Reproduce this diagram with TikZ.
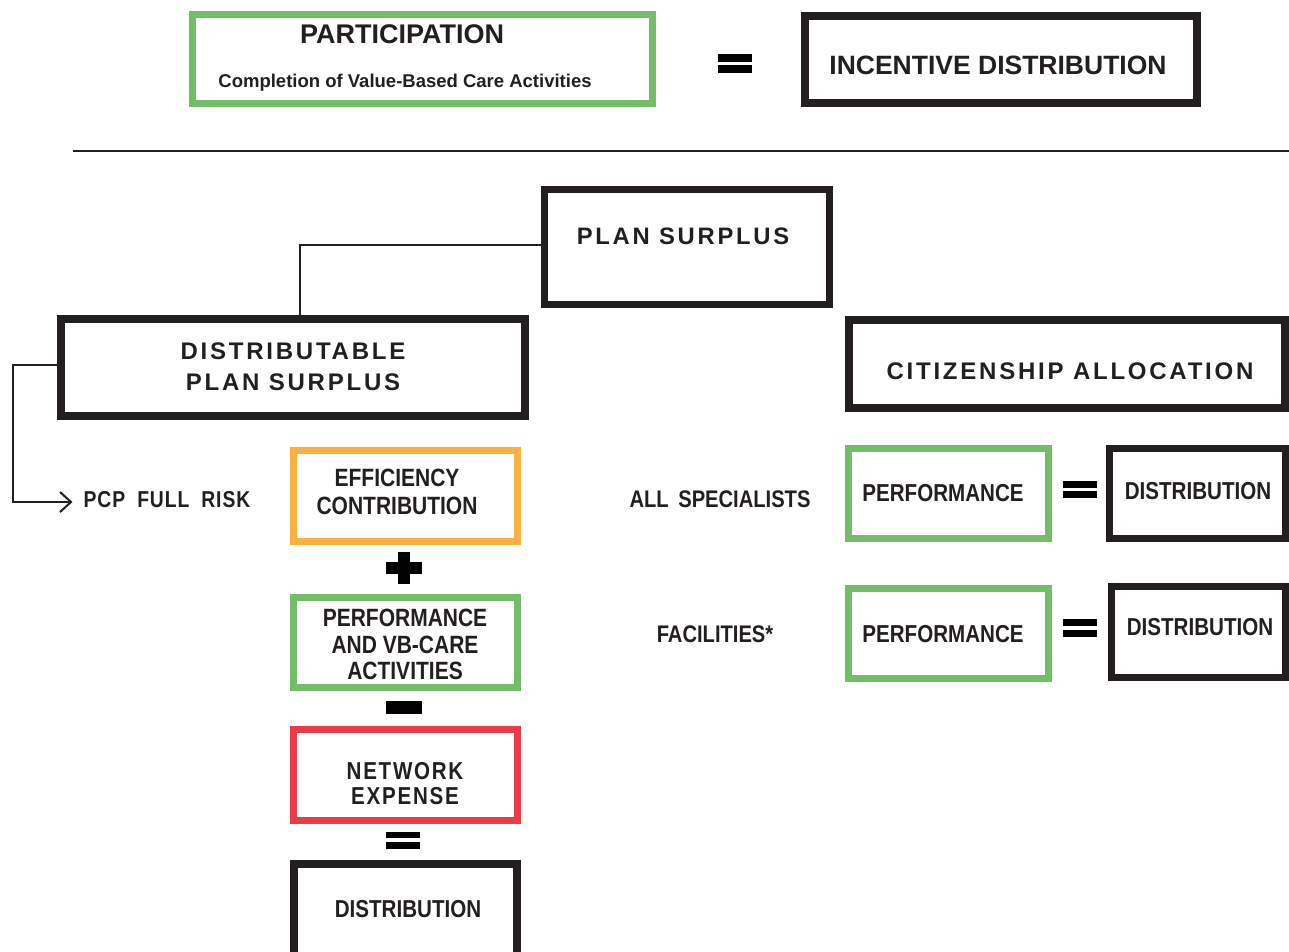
\documentclass[tikz,border=0pt]{standalone}
\usepackage{fontspec}
\setmainfont{Liberation Sans}
\newfontfamily\cnd[FakeStretch=0.84]{Liberation Sans}
\newfontfamily\trk[LetterSpace=11.5]{Liberation Sans}
\newfontfamily\cndtrk[FakeStretch=0.84,LetterSpace=7]{Liberation Sans}
\newfontfamily\cndlight[FakeStretch=0.84,LetterSpace=4]{Liberation Sans}
\usetikzlibrary{arrows.meta}
\definecolor{ink}{HTML}{231F20}
\definecolor{leaf}{HTML}{72BF67}
\definecolor{amber}{HTML}{FBB040}
\definecolor{alert}{HTML}{EC3B46}

\begin{document}
\begin{tikzpicture}[x=1pt,y=-1pt,
  frame/.style={draw=#1, line width=7pt, inner sep=0pt, outer sep=0pt, minimum width=224pt, minimum height=91pt},
  heavy/.style={frame=ink, line width=8pt},
  txt/.style={text=ink, inner sep=0pt, align=center},
  boxtext/.style={txt, font=\cnd\bfseries\fontsize{24.5}{27}\selectfont},
  toptext/.style={txt, font=\bfseries\fontsize{26.5}{30}\selectfont},
  tracked/.style={txt, font=\trk\bfseries\fontsize{24}{31}\selectfont},
  thin/.style={draw=ink, line width=2pt},
  bar/.style={fill=black}
]
\useasboundingbox (0,0) rectangle (1289,951);
\clip (0,0) rectangle (1289,951);

% ---- top row: participation = incentive distribution
\node[frame=leaf, minimum width=460pt, minimum height=89pt] (part) at (422.5,59) {};
\node[toptext, font=\bfseries\fontsize{27}{30}\selectfont] (partT) at (402,34) {PARTICIPATION};
\node[txt, font=\bfseries\fontsize{18.5}{22}\selectfont, anchor=base] (partS) at (405,87.5) {Completion of Value-Based Care Activities};
\fill[bar] (718,54) rectangle (752,62);
\fill[bar] (718,65) rectangle (752,73);
\node[heavy, minimum width=392pt, minimum height=87pt] (incent) at (1001,59.5) {};
\node[toptext] (incentT) at (998,65) {INCENTIVE DISTRIBUTION};

% ---- separator rule
\coordinate (ruleL) at (73,151);
\coordinate (ruleR) at (1289,151);
\draw[thin] (ruleL) -- (ruleR);

% ---- plan surplus tree
\node[heavy, line width=7pt, minimum width=285pt, minimum height=115pt] (plan) at (687,247) {};
\node[tracked, font=\trk\bfseries\fontsize{23.8}{31}\selectfont] (planT) at (683,236) {PLAN SURPLUS};
\node[heavy, minimum width=464pt, minimum height=97pt] (dps) at (293,367.5) {};
\node[tracked] (dpsT) at (293,366.5) {DISTRIBUTABLE\\PLAN SURPLUS};
\draw[thin] ([yshift=2pt]plan.west) -| ([xshift=7pt]dps.north);

\node[txt, font=\cndlight\bfseries\fontsize{23}{26}\selectfont] (pcp) at (167,500) {PCP\hspace{12pt}FULL\hspace{12pt}RISK};
\draw[thin, -{Straight Barb[length=11pt,width=20pt,line width=2pt]}]
  ([yshift=3pt]dps.west) -- ++(-48,0) |- ([xshift=-11pt,yshift=-2pt]pcp.west);

% ---- PCP formula column
\node[frame=amber, minimum width=224pt, minimum height=91pt] (eff) at (405.5,496) {};
\node[boxtext, font=\cnd\bfseries\fontsize{25}{28}\selectfont] (effT) at (397,492) {EFFICIENCY\\CONTRIBUTION};
\fill[bar] (386,562.3) rectangle (422,574.3);
\fill[bar] (398,551.7) rectangle (410,584.3);
\node[frame=leaf, minimum width=224pt, minimum height=90pt] (perf) at (405.5,642.5) {};
\node[boxtext, font=\cnd\bfseries\fontsize{25}{26.5}\selectfont] (perfT) at (405,644.5) {PERFORMANCE\\AND VB-CARE\\ACTIVITIES};
\fill[bar] (386,701.3) rectangle (422,714);
\node[frame=alert, minimum width=224pt, minimum height=91pt] (net) at (405.5,775) {};
\node[boxtext, font=\cndtrk\bfseries\fontsize{24.5}{25}\selectfont] (netT) at (405,783.5) {NETWORK\\EXPENSE};
\fill[bar] (386,831.7) rectangle (420,838.3);
\fill[bar] (386,842.3) rectangle (420,849.3);
\node[heavy, minimum width=223pt, minimum height=102pt] (dist) at (405.5,915) {};
\node[boxtext] (distT) at (408,909) {DISTRIBUTION};

% ---- citizenship allocation
\node[heavy, minimum width=436pt, minimum height=88pt] (cit) at (1067,364) {};
\node[tracked] (citT) at (1070,371) {CITIZENSHIP ALLOCATION};

\node[boxtext, font=\cnd\bfseries\fontsize{24}{27}\selectfont] (spec) at (720,499) {ALL\hspace{4pt} SPECIALISTS};
\node[frame=leaf, minimum width=200pt, minimum height=90pt] (perfA) at (948.5,493.5) {};
\node[boxtext] (perfAT) at (943,493) {PERFORMANCE};
\fill[bar] (1063,480.7) rectangle (1097,487.7);
\fill[bar] (1063,491) rectangle (1097,498.3);
\node[heavy, line width=7pt, minimum width=176pt, minimum height=90pt] (distA) at (1197,493.5) {};
\node[boxtext] (distAT) at (1198,491) {DISTRIBUTION};

\node[boxtext, font=\cnd\bfseries\fontsize{24}{27}\selectfont] (fac) at (715,634) {FACILITIES*};
\node[frame=leaf, minimum width=200pt, minimum height=90pt] (perfB) at (948.5,633.5) {};
\node[boxtext] (perfBT) at (943,634) {PERFORMANCE};
\fill[bar] (1063,619) rectangle (1097,626);
\fill[bar] (1063,629.5) rectangle (1097,636.5);
\node[heavy, line width=7pt, minimum width=174pt, minimum height=91pt] (distB) at (1198.5,632) {};
\node[boxtext] (distBT) at (1200,627) {DISTRIBUTION};
\end{tikzpicture}
\end{document}
